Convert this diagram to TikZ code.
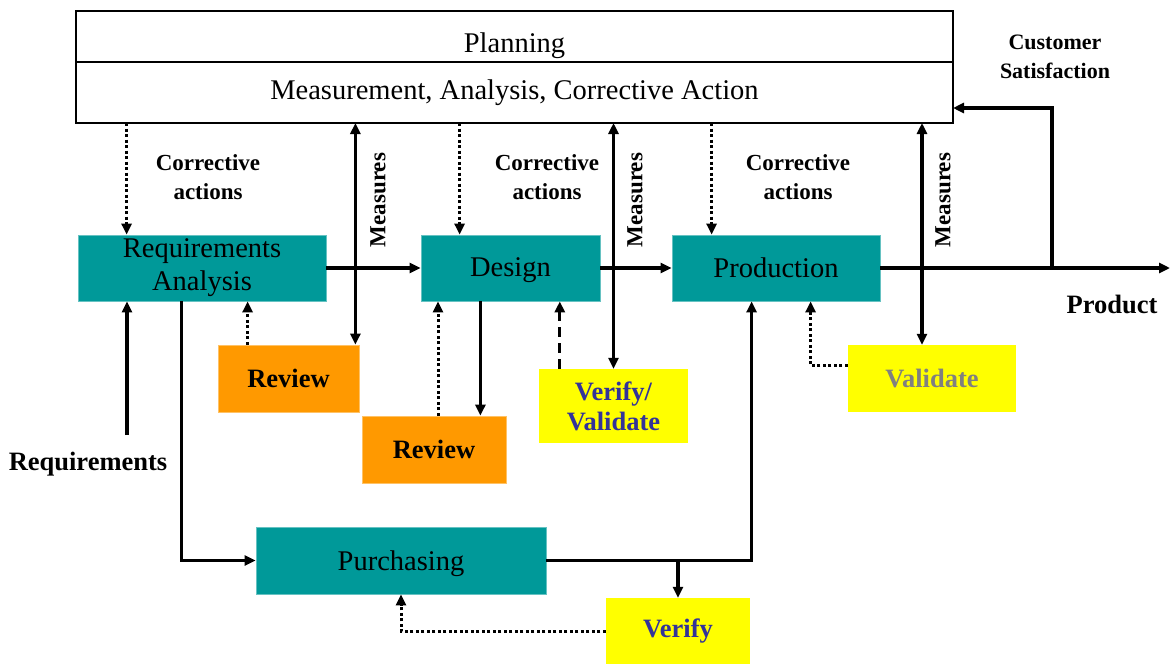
\documentclass[tikz,border=0pt]{standalone}
\usepackage{fontspec}
\setmainfont{Liberation Serif}
\usetikzlibrary{positioning,arrows.meta,calc}
\definecolor{procteal}{HTML}{009999}
\definecolor{revorange}{HTML}{FF9900}
\definecolor{chkyellow}{HTML}{FFFF00}
\definecolor{chkblue}{HTML}{333399}
\definecolor{chkgray}{HTML}{808080}
\newcommand{\boxfont}{\fontsize{28.5}{32}\selectfont}
\newcommand{\tagfont}{\fontsize{26.5}{30}\selectfont\bfseries}
\newcommand{\notefont}{\fontsize{23}{29}\selectfont\bfseries}
\tikzset{
  topbox/.style={rectangle,draw=black,line width=2.5pt,fill=white,
    minimum width=877pt,font=\boxfont,inner sep=0pt,outer sep=0pt},
  proc/.style={rectangle,fill=procteal,draw=procteal!60!white,line width=0.8pt,
    align=center,inner sep=2pt,font=\boxfont,minimum height=66pt},
  rev/.style={rectangle,fill=revorange,draw=revorange!60!white,line width=0.8pt,
    align=center,font=\tagfont,minimum height=67pt},
  chk/.style={rectangle,fill=chkyellow,align=center,font=\tagfont,
    text=chkblue,minimum height=67pt},
  note/.style={align=center,font=\notefont},
  ar/.style={-{Triangle[length=11pt,width=10pt]},line width=3.4pt},
  dar/.style={{Triangle[length=11pt,width=10pt]}-{Triangle[length=11pt,width=10pt]},line width=3.4pt},
  dots/.style={-{Triangle[length=11pt,width=10pt]},line width=3pt,dash pattern=on 3pt off 2.5pt},
  dashar/.style={-{Triangle[length=11pt,width=10pt]},line width=3pt,dash pattern=on 10pt off 6pt},
}

\begin{document}
\begin{tikzpicture}[x=1pt,y=-1pt]
  \useasboundingbox (0,0) rectangle (1171,664);
  % planning block
  \node[topbox,minimum height=51pt,anchor=north west,text height=38pt] (plan) at (76,11) {Planning};
  \node[topbox,minimum height=61pt,below=0pt of plan] (mac) {Measurement, Analysis, Corrective Action};
  % processes
  \node[proc,minimum width=248pt] (ra) at (202,268) {Requirements\\[1pt]Analysis};
  \node[proc,minimum width=179pt,text height=24pt] (des) at (510.5,268) {Design};
  \node[proc,minimum width=208pt] (prod) at (776,268) {Production};
  \node[proc,minimum width=290pt,minimum height=67pt,text height=26pt] (pur) at (401,560.5) {Purchasing};
  % reviews and checks
  \node[rev,minimum width=141pt] (rev1) at (288.5,378.5) {Review};
  \node[rev,minimum width=144pt] (rev2) at (434,449.5) {Review};
  \node[chk,minimum width=149pt,minimum height=74pt] (vv) at (613.5,406) {Verify/\\Validate};
  \node[chk,minimum width=168pt,text=chkgray] (val) at (932,378.5) {Validate};
  \node[chk,minimum width=144pt,minimum height=66pt] (ver) at (678,631) {Verify};
  % labels
  \node[note] (ca1) at (208,177) {Corrective\\actions};
  \node[note] (ca2) at (547,177) {Corrective\\actions};
  \node[note] (ca3) at (798,177) {Corrective\\actions};
  \node[note,rotate=90] (ms1) at (378,200) {Measures};
  \node[note,rotate=90] (ms2) at (635,200) {Measures};
  \node[note,rotate=90] (ms3) at (943,200) {Measures};
  \node[font=\tagfont] (reqlbl) at (88,464) {Requirements};
  \node[font=\tagfont] (prodlbl) at (1112,304) {Product};
  \node[note,font=\fontsize{22}{29}\selectfont\bfseries] (cust) at (1055,57) {Customer\\Satisfaction};
  \coordinate (prodout) at (1170,268);
  \coordinate (csup) at (1052,268);
  \coordinate (reqin) at (127,435);
  % main flow
  \draw[ar] (ra) -- (des);
  \draw[ar] (des) -- (prod);
  \draw[ar] (prod) -- (prodout);
  \draw[ar] (csup) |- ([yshift=15pt]mac.south east);
  \draw[ar] (reqin) -- (reqin |- ra.south);
  \draw[ar] ([xshift=104pt]ra.south west) |- (pur.west);
  \draw[ar] (pur.east) -| ([xshift=80pt]prod.south west);
  \draw[ar] (ver.north |- pur.east) -- (ver.north);
  % feedback from checks
  \draw[dots] ([xshift=30pt]rev1.north west) -- ([xshift=30pt]rev1.north west |- ra.south);
  \draw[ar] ([xshift=-26pt]rev2.north east |- des.south) -- ([xshift=-26pt]rev2.north east);
  \draw[dots] ([xshift=4pt]rev2.north) -- ([xshift=4pt]rev2.north |- des.south);
  \draw[dashar] ([xshift=21pt]vv.north west) -- ([xshift=21pt]vv.north west |- des.south);
  \draw[dots] (ver.west) -| (pur.south);
  \draw[dots] ([yshift=13pt]val.west) -| ([xshift=139pt]prod.south west);
  % corrective actions
  \draw[dots] ([xshift=49pt]ra.north west |- mac.south) -- ([xshift=49pt]ra.north west);
  \draw[dots] ([xshift=39pt]des.north west |- mac.south) -- ([xshift=39pt]des.north west);
  \draw[dots] ([xshift=40pt]prod.north west |- mac.south) -- ([xshift=40pt]prod.north west);
  % measures
  \draw[dar] ([xshift=-4pt]rev1.north east) -- ([xshift=-4pt]rev1.north east |- mac.south);
  \draw[dar] (vv.north) -- (vv.north |- mac.south);
  \draw[dar] ([xshift=-10pt]val.north) -- ([xshift=-10pt]val.north |- mac.south);
\end{tikzpicture}
\end{document}
